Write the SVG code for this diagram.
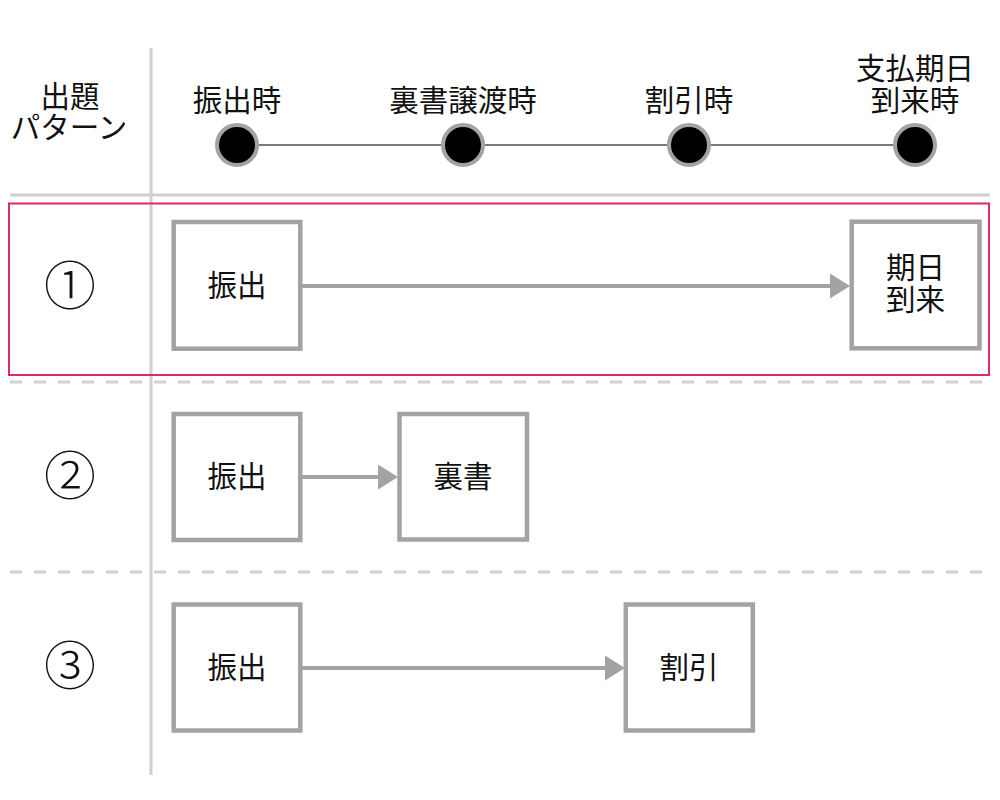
<svg xmlns="http://www.w3.org/2000/svg" width="1000" height="800" viewBox="0 0 1000 800">
<style>
text{font-family:"Noto Sans CJK JP","Noto Sans",sans-serif;fill:#111;text-anchor:middle}
.lbl{font-size:29.5px}
.num{font-size:52px;font-weight:300}
.grid{stroke:#d0d0d0;stroke-width:3;fill:none}
.dash{stroke:#d0d0d0;stroke-width:3;stroke-dasharray:12 12;fill:none}
.box{fill:#fff;stroke:#a3a3a3;stroke-width:4.5}
.dot{fill:#000;stroke:#a3a3a3;stroke-width:4}
.tl{stroke:#7a7a7a;stroke-width:2}
.arr{stroke:#a3a3a3;stroke-width:4;fill:none;marker-end:url(#ah)}
</style>
<defs>
<marker id="ah" markerUnits="userSpaceOnUse" markerWidth="21" markerHeight="26" refX="0" refY="12.5" orient="auto" viewBox="0 0 21 26">
<path d="M0,0 L20,12.5 L0,25 z" fill="#a3a3a3"/>
</marker>
</defs>
<rect width="1000" height="800" fill="#fff"/>
<g id="grid">
<line class="grid" x1="151" y1="48" x2="151" y2="775"/>
<line class="grid" x1="10" y1="195" x2="990" y2="195"/>
<line class="dash" x1="10" y1="382" x2="990" y2="382"/>
<line class="dash" x1="10" y1="572" x2="990" y2="572"/>
</g>
<g id="header">
<text class="lbl" x="70" y="107">出題</text>
<text class="lbl" x="69" y="138">パターン</text>
</g>
<g id="timeline">
<line class="tl" x1="237" y1="145" x2="915" y2="145"/>
<g id="t1"><circle class="dot" cx="237" cy="145" r="20"/><text class="lbl" x="237" y="111">振出時</text></g>
<g id="t2"><circle class="dot" cx="463" cy="145" r="20"/><text class="lbl" x="463" y="111">裏書譲渡時</text></g>
<g id="t3"><circle class="dot" cx="689" cy="145" r="20"/><text class="lbl" x="689" y="111">割引時</text></g>
<g id="t4"><circle class="dot" cx="915" cy="145" r="20"/><text class="lbl" x="915" y="79">支払期日</text><text class="lbl" x="915" y="111">到来時</text></g>
</g>
<rect id="highlight" x="9" y="203.5" width="980" height="171.5" fill="none" stroke="#e2266f" stroke-width="2"/>
<g id="p1label"><text class="num" x="70" y="305">①</text></g>
<g id="p2label"><text class="num" x="70" y="495">②</text></g>
<g id="p3label"><text class="num" x="70" y="685">③</text></g>
<g id="connectors">
<line class="arr" x1="302" y1="286" x2="830" y2="286"/>
<line class="arr" x1="302" y1="477" x2="378" y2="477"/>
<line class="arr" x1="302" y1="668" x2="605" y2="668"/>
</g>
<g id="r1a"><rect class="box" x="173.7" y="222" width="126.6" height="126.7"/><text class="lbl" x="237" y="296">振出</text></g>
<g id="r1b"><rect class="box" x="851.7" y="221.7" width="127.8" height="126.6"/><text class="lbl" x="915.6" y="278">期日</text><text class="lbl" x="915.6" y="310">到来</text></g>
<g id="r2a"><rect class="box" x="173.7" y="414" width="126.6" height="126"/><text class="lbl" x="237" y="487">振出</text></g>
<g id="r2b"><rect class="box" x="399.5" y="414" width="127.5" height="125.5"/><text class="lbl" x="463" y="487">裏書</text></g>
<g id="r3a"><rect class="box" x="173.7" y="604.5" width="126.6" height="126"/><text class="lbl" x="237" y="678">振出</text></g>
<g id="r3b"><rect class="box" x="625.8" y="604.5" width="127" height="126"/><text class="lbl" x="689" y="678">割引</text></g>
</svg>
